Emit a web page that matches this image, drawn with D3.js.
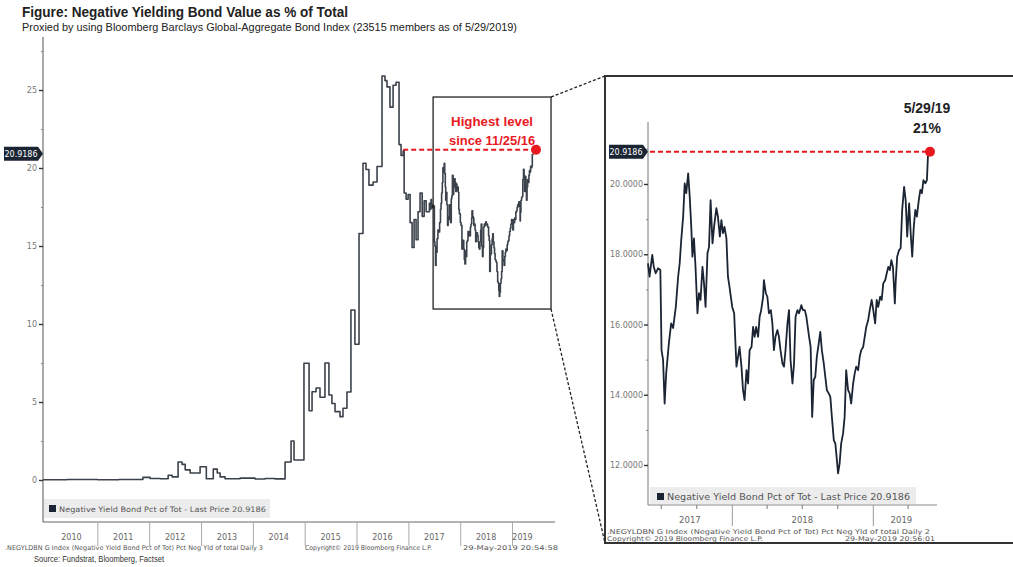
<!DOCTYPE html>
<html><head><meta charset="utf-8">
<script src="https://cdn.jsdelivr.net/npm/d3@7"></script>
<style>
html,body{margin:0;padding:0;background:#fff;}
svg{display:block;}
</style></head><body>
<svg id="c" width="1013" height="567"></svg>
<script>
// ---------------- DATA ----------------
const titleText = "Figure: Negative Yielding Bond Value as % of Total";
const subtitleText = "Proxied by using Bloomberg Barclays Global-Aggregate Bond Index (23515 members as of 5/29/2019)";
const seriesName = "Negative Yield Bond Pct of Tot";
const lastPrice = 20.9186;
const firstDate = "2009-12-14";
const zoomStart = "2017-05-29";
const lastDate = "2019-05-29";
const sinceDate = "2016-11-25";
const annotationLines = ["Highest level", "since 11/25/16"];
const endLabelLines = ["5/29/19", "21%"];
const leftYTicks = [0, 5, 10, 15, 20, 25];
const leftYMinor = [2.5, 7.5, 12.5, 17.5, 22.5, 27.5];
const rightYTicks = [12, 14, 16, 18, 20];
const rightYMinor = [13, 15, 17, 19, 21];
const leftYears = [2010, 2011, 2012, 2013, 2014, 2015, 2016, 2017, 2018, 2019];
const rightYears = [2017, 2018, 2019];
const zoomBoxDates = ["2017-06-24", "2019-10-03"];
const zoomBoxValues = [10.96, 24.55];
const leftFooter = [".NEGYLDBN G Index (Negative Yield Bond Pct of Tot) Pct Neg Yld of total  Daily 3", "Copyright\u00a9 2019 Bloomberg Finance L.P.", "29-May-2019 20:54:58"];
const rightFooter = [".NEGYLDBN G Index (Negative Yield Bond Pct of Tot) Pct Neg Yld of total  Daily 2", "Copyright\u00a9 2019 Bloomberg Finance L.P.", "29-May-2019 20:56:01"];
const sourceText = "Source: Fundstrat, Bloomberg, Factset";

// long history (before the 2-year zoom window)
const historyDates = ["2009-12-14","2010-06-01","2011-01-03","2011-06-01","2011-11-18","2012-01-08","2012-03-18","2012-05-14","2012-06-11","2012-07-23","2012-08-20","2012-09-11","2012-10-16","2012-12-25","2013-02-07","2013-03-28","2013-04-25","2013-05-15","2013-06-19","2013-10-03","2014-01-16","2014-03-28","2014-06-06","2014-08-16","2014-09-27","2014-10-18","2014-12-27","2015-02-01","2015-02-22","2015-03-22","2015-04-19","2015-05-24","2015-06-21","2015-07-12","2015-08-03","2015-09-07","2015-09-28","2015-10-26","2015-11-23","2015-12-21","2016-01-19","2016-02-16","2016-03-08","2016-03-29","2016-04-27","2016-05-25","2016-06-29","2016-07-20","2016-08-03","2016-08-24","2016-09-15","2016-10-06","2016-10-27","2016-11-10","2016-11-25","2016-12-02","2016-12-16","2016-12-30","2017-01-13","2017-01-27","2017-02-10","2017-02-24","2017-03-10","2017-03-24","2017-04-08","2017-04-22","2017-05-06"];
const historyValues = [0.02,0.03,0.02,0.03,0.17,0.10,0.08,0.30,0.20,1.15,1.00,0.65,0.45,0.85,0.08,0.70,0.45,0.20,0.08,0.12,0.06,0.10,0.07,1.15,2.50,1.28,7.48,4.44,5.66,5.90,5.30,7.50,5.45,4.90,4.38,4.06,4.60,5.64,10.9,8.7,15.8,20.3,19.9,18.9,19.1,20.1,25.9,25.6,25.2,23.9,25.3,25.5,21.5,20.8,21.1,18.4,18.0,18.3,16.5,14.9,16.7,15.4,17.2,18.4,16.9,17.9,17.2];

// last two years (zoom window)
const recentDates = ["2017-05-29","2017-06-02","2017-06-09","2017-06-13","2017-06-18","2017-06-24","2017-06-30","2017-07-03","2017-07-07","2017-07-11","2017-07-15","2017-07-22","2017-07-28","2017-08-02","2017-08-09","2017-08-15","2017-08-19","2017-08-23","2017-08-28","2017-09-01","2017-09-05","2017-09-10","2017-09-14","2017-09-18","2017-09-21","2017-09-25","2017-09-29","2017-10-04","2017-10-08","2017-10-12","2017-10-17","2017-10-21","2017-10-25","2017-10-30","2017-11-03","2017-11-07","2017-11-12","2017-11-16","2017-11-22","2017-11-26","2017-12-01","2017-12-05","2017-12-09","2017-12-13","2017-12-18","2017-12-22","2017-12-26","2018-01-02","2018-01-07","2018-01-13","2018-01-17","2018-01-21","2018-01-26","2018-01-30","2018-02-03","2018-02-08","2018-02-12","2018-02-16","2018-02-21","2018-02-25","2018-03-01","2018-03-05","2018-03-10","2018-03-14","2018-03-18","2018-03-23","2018-03-25","2018-03-30","2018-04-03","2018-04-07","2018-04-12","2018-04-16","2018-04-20","2018-04-24","2018-04-29","2018-05-03","2018-05-07","2018-05-12","2018-05-16","2018-05-20","2018-05-25","2018-05-29","2018-06-02","2018-06-07","2018-06-11","2018-06-15","2018-06-20","2018-06-24","2018-06-30","2018-07-04","2018-07-09","2018-07-13","2018-07-20","2018-07-24","2018-07-28","2018-08-01","2018-08-05","2018-08-09","2018-08-14","2018-08-18","2018-08-22","2018-08-27","2018-08-31","2018-09-04","2018-09-09","2018-09-13","2018-09-17","2018-09-22","2018-09-26","2018-09-30","2018-10-03","2018-10-07","2018-10-11","2018-10-16","2018-10-20","2018-10-24","2018-10-29","2018-11-02","2018-11-06","2018-11-11","2018-11-15","2018-11-19","2018-11-24","2018-11-28","2018-12-02","2018-12-07","2018-12-11","2018-12-15","2018-12-20","2018-12-24","2018-12-29","2019-01-01","2019-01-07","2019-01-11","2019-01-15","2019-01-20","2019-01-24","2019-01-28","2019-02-02","2019-02-06","2019-02-10","2019-02-14","2019-02-18","2019-02-22","2019-02-27","2019-03-01","2019-03-05","2019-03-10","2019-03-14","2019-03-18","2019-03-23","2019-03-27","2019-03-31","2019-04-05","2019-04-09","2019-04-13","2019-04-17","2019-04-21","2019-04-25","2019-04-30","2019-05-04","2019-05-08","2019-05-12","2019-05-17","2019-05-21","2019-05-24","2019-05-29"];
const recentValues = [17.74,17.36,17.98,17.64,17.46,17.60,17.55,15.27,14.99,13.75,14.60,15.46,16.03,15.90,16.50,17.36,17.74,18.40,19.07,20.02,19.74,20.30,19.64,18.78,17.93,18.45,17.64,16.32,16.89,16.70,17.64,17.17,16.50,18.03,18.21,19.54,18.31,18.78,19.31,19.07,18.50,18.97,18.60,18.78,18.45,17.36,17.07,16.50,16.32,14.80,15.08,15.36,14.80,14.13,13.85,14.70,14.32,15.27,15.36,15.93,15.65,15.93,15.65,16.22,16.41,16.79,17.26,16.89,16.79,16.32,16.41,16.03,15.27,15.65,15.84,15.65,15.27,14.89,14.80,15.27,16.03,16.41,14.99,14.32,14.89,16.22,16.41,16.32,16.55,16.41,16.41,16.22,15.65,15.36,13.37,14.42,14.51,15.08,15.46,15.79,15.27,14.89,14.51,14.13,14.04,13.94,13.37,12.71,12.61,12.14,11.76,12.04,12.61,12.90,13.37,14.70,14.13,14.04,13.75,14.32,14.60,14.80,14.70,15.08,15.27,15.36,15.65,15.93,16.13,16.41,16.70,16.50,16.03,16.70,16.50,16.79,16.70,17.17,17.26,17.46,17.64,17.55,17.83,17.64,16.60,17.17,17.93,18.12,18.17,19.26,19.92,19.54,18.50,19.45,18.60,17.93,18.78,19.26,19.07,19.54,19.83,19.74,20.11,20.02,20.11,20.87,20.9186];

// ---------------- BUILD ----------------
const parse = d3.utcParse("%Y-%m-%d");
const hist = historyDates.map((d, i) => ({date: parse(d), value: historyValues[i]}));
const recent = recentDates.map((d, i) => ({date: parse(d), value: recentValues[i]}));
const full = hist.concat(recent);

const svg = d3.select("#c");
const bbFont = "'DejaVu Sans', Verdana, sans-serif";
const arial = "'Liberation Sans', Arial, sans-serif";
const navy = "#1b2433";
const red = "#e8191f";

// Title
svg.append("text").attr("x", 22).attr("y", 17).attr("font-family", arial).attr("font-weight", "bold")
  .attr("font-size", 14).attr("fill", "#222").attr("textLength", 326).attr("lengthAdjust", "spacingAndGlyphs").text(titleText);
svg.append("text").attr("x", 22).attr("y", 31).attr("font-family", arial)
  .attr("font-size", 10.5).attr("fill", "#222").attr("textLength", 495).attr("lengthAdjust", "spacingAndGlyphs").text(subtitleText);

// ======== LEFT CHART ========
const xL = d3.scaleUtc().domain([parse(firstDate), parse(lastDate)]).range([43, 533]);
const yL = d3.scaleLinear().domain([0, 25]).range([480, 90]);
const left = svg.append("g");

// y axis
left.append("line").attr("x1", 43).attr("x2", 43).attr("y1", yL(28.4)).attr("y2", 522).attr("stroke", "#555").attr("stroke-width", 1);
const yAxL = left.append("g").attr("transform", "translate(43,0)")
  .call(d3.axisLeft(yL).tickValues(leftYTicks).tickSize(4).tickPadding(2).tickFormat(d3.format("d")));
yAxL.select(".domain").remove();
yAxL.selectAll("line").attr("stroke", "#333").attr("stroke-width", 1.4);
yAxL.selectAll("text").attr("font-family", bbFont).attr("font-size", 8).attr("fill", "#777");
const yAxLm = left.append("g").attr("transform", "translate(43,0)")
  .call(d3.axisLeft(yL).tickValues(leftYMinor).tickSize(2).tickFormat(""));
yAxLm.select(".domain").remove();
yAxLm.selectAll("line").attr("stroke", "#888");

// x axis
left.append("line").attr("x1", 43).attr("x2", 555).attr("y1", 522).attr("y2", 522).attr("stroke", "#666").attr("stroke-width", 1);
const yearStartsL = leftYears.slice(1).map(y => new Date(Date.UTC(y, 0, 1)));
const xAxL = left.append("g").attr("transform", "translate(0,522)")
  .call(d3.axisBottom(xL).tickValues(yearStartsL).tickSize(24).tickFormat(""));
xAxL.select(".domain").remove();
xAxL.selectAll("line").attr("stroke", "#aaa");
left.append("g").selectAll("text").data(leftYears).join("text")
  .attr("x", y => {
    const a = Math.max(xL(new Date(Date.UTC(y, 0, 1))), xL.range()[0]);
    const b = Math.min(xL(new Date(Date.UTC(y + 1, 0, 1))), xL.range()[1]);
    return (a + b) / 2;
  })
  .attr("y", 540).attr("text-anchor", "middle").attr("font-family", bbFont).attr("font-size", 8).attr("fill", "#666")
  .text(d => d);

// legend
left.append("rect").attr("x", 44).attr("y", 499).attr("width", 226).attr("height", 19).attr("fill", "#ececec");
left.append("rect").attr("x", 49).attr("y", 505).attr("width", 7).attr("height", 7).attr("fill", navy);
left.append("text").attr("x", 59).attr("y", 512).attr("font-family", bbFont).attr("font-size", 7.5).attr("fill", "#555")
  .attr("textLength", 207).attr("lengthAdjust", "spacingAndGlyphs")
  .text(seriesName + " - Last Price " + d3.format(".4f")(lastPrice));

// series
const lineL = d3.line().x(d => xL(d.date)).y(d => yL(d.value)).curve(d3.curveStepAfter);
left.append("path").datum(full).attr("d", lineL).attr("fill", "none").attr("stroke", "#3c424b").attr("stroke-width", 1.6).attr("stroke-linejoin", "round");

// last price tag
function tag(g, xAxis, yv) {
  const h = 14, w = 34;
  g.append("path").attr("d", `M${xAxis - w - 5},${yv - h/2} H${xAxis - 5} L${xAxis},${yv} L${xAxis - 5},${yv + h/2} H${xAxis - w - 5} Z`).attr("fill", navy);
  g.append("text").attr("x", xAxis - 5 - w/2).attr("y", yv + 3).attr("text-anchor", "middle").attr("font-family", bbFont)
    .attr("font-size", 8).attr("fill", "#fff").text(d3.format(".4f")(lastPrice));
}
tag(left, 43, yL(lastPrice));

// zoom box
const bx0 = xL(parse(zoomBoxDates[0])), bx1 = xL(parse(zoomBoxDates[1]));
const by0 = yL(zoomBoxValues[1]), by1 = yL(zoomBoxValues[0]);
left.append("rect").attr("x", bx0).attr("y", by0).attr("width", bx1 - bx0).attr("height", by1 - by0)
  .attr("fill", "none").attr("stroke", "#111").attr("stroke-width", 1.2);

// red annotation
left.append("line").attr("x1", xL(parse(sinceDate))).attr("x2", xL(parse(lastDate)))
  .attr("y1", yL(lastPrice) - 4).attr("y2", yL(lastPrice) - 4).attr("stroke", red).attr("stroke-width", 2).attr("stroke-dasharray", "5,3");
left.append("circle").attr("cx", xL(parse(lastDate)) + 3).attr("cy", yL(lastPrice) - 4).attr("r", 5).attr("fill", red);
left.append("g").selectAll("text").data(annotationLines).join("text")
  .attr("x", (bx0 + bx1) / 2).attr("y", (d, i) => 126 + i * 19).attr("text-anchor", "middle")
  .attr("font-family", arial).attr("font-weight", "bold").attr("font-size", 13.5).attr("fill", red)
  .attr("textLength", (d, i) => i === 0 ? 82 : 86).attr("lengthAdjust", "spacingAndGlyphs").text(d => d);

// footer left
const fy = 550;
[[5, 258], [305, 127], [463, 95]].forEach((p, i) => {
  svg.append("text").attr("x", p[0]).attr("y", fy).attr("font-family", bbFont).attr("font-size", 6.5).attr("fill", "#555")
    .attr("textLength", p[1]).attr("lengthAdjust", "spacingAndGlyphs").text(leftFooter[i]);
});
svg.append("text").attr("x", 34).attr("y", 562).attr("font-family", arial).attr("font-size", 9).attr("fill", "#333")
  .attr("textLength", 130).attr("lengthAdjust", "spacingAndGlyphs").text(sourceText);

// ======== RIGHT CHART ========
const xR = d3.scaleUtc().domain([parse(zoomStart), parse(lastDate)]).range([648, 930]);
const yR = d3.scaleLinear().domain([12, 20]).range([465, 184]);
const right = svg.append("g");

// frame
right.append("path").attr("d", "M1020,76 H605 V543 H1020").attr("fill", "none").attr("stroke", "#333").attr("stroke-width", 2);
// connectors
svg.append("line").attr("x1", bx1).attr("y1", by0).attr("x2", 605).attr("y2", 76).attr("stroke", "#222").attr("stroke-width", 1.3).attr("stroke-dasharray", "3,2");
svg.append("line").attr("x1", bx1).attr("y1", by1).attr("x2", 605).attr("y2", 543).attr("stroke", "#222").attr("stroke-width", 1.3).attr("stroke-dasharray", "3,2");

// y axis
right.append("line").attr("x1", 648).attr("x2", 648).attr("y1", 122).attr("y2", 505).attr("stroke", "#777").attr("stroke-width", 1);
const yAxR = right.append("g").attr("transform", "translate(648,0)")
  .call(d3.axisLeft(yR).tickValues(rightYTicks).tickSize(4).tickPadding(1).tickFormat(d3.format(".4f")));
yAxR.select(".domain").remove();
yAxR.selectAll("line").attr("stroke", "#333").attr("stroke-width", 1.4);
yAxR.selectAll("text").attr("font-family", bbFont).attr("font-size", 8).attr("fill", "#777");
const yAxRm = right.append("g").attr("transform", "translate(648,0)")
  .call(d3.axisLeft(yR).tickValues(rightYMinor).tickSize(2).tickFormat(""));
yAxRm.select(".domain").remove();
yAxRm.selectAll("line").attr("stroke", "#888");

// x axis
right.append("line").attr("x1", 648).attr("x2", 937).attr("y1", 505).attr("y2", 505).attr("stroke", "#888").attr("stroke-width", 1);
const yearStartsR = [2018, 2019].map(y => new Date(Date.UTC(y, 0, 1)));
const xAxR = right.append("g").attr("transform", "translate(0,505)")
  .call(d3.axisBottom(xR).tickValues(yearStartsR).tickSize(21).tickFormat(""));
xAxR.select(".domain").remove();
xAxR.selectAll("line").attr("stroke", "#999");
const quarterTicks = d3.utcMonth.every(3).range(parse(zoomStart), parse(lastDate)).filter(d => d.getUTCMonth() !== 0);
const xAxRq = right.append("g").attr("transform", "translate(0,505)")
  .call(d3.axisBottom(xR).tickValues(quarterTicks).tickSize(4).tickFormat(""));
xAxRq.select(".domain").remove();
xAxRq.selectAll("line").attr("stroke", "#777");
right.append("g").selectAll("text").data(rightYears).join("text")
  .attr("x", y => {
    const a = Math.max(xR(new Date(Date.UTC(y, 0, 1))), xR.range()[0]);
    const b = Math.min(xR(new Date(Date.UTC(y + 1, 0, 1))), xR.range()[1]);
    return (a + b) / 2;
  })
  .attr("y", 523).attr("text-anchor", "middle").attr("font-family", bbFont).attr("font-size", 8.5).attr("fill", "#666")
  .text(d => d);

// legend
right.append("rect").attr("x", 650).attr("y", 487).attr("width", 266).attr("height", 17).attr("fill", "#ececec");
right.append("rect").attr("x", 657).attr("y", 493).attr("width", 7).attr("height", 7).attr("fill", navy);
right.append("text").attr("x", 667).attr("y", 500).attr("font-family", bbFont).attr("font-size", 8.5).attr("fill", "#555")
  .attr("textLength", 243).attr("lengthAdjust", "spacingAndGlyphs")
  .text(seriesName + " - Last Price " + d3.format(".4f")(lastPrice));

// series
const lineR = d3.line().x(d => xR(d.date)).y(d => yR(d.value));
right.append("path").datum(recent).attr("d", lineR).attr("fill", "none").attr("stroke", navy).attr("stroke-width", 1.8).attr("stroke-linejoin", "round");

tag(right, 648, yR(lastPrice));

right.append("line").attr("x1", 650).attr("x2", xR(parse(lastDate))).attr("y1", yR(lastPrice)).attr("y2", yR(lastPrice))
  .attr("stroke", red).attr("stroke-width", 2).attr("stroke-dasharray", "5,3");
right.append("circle").attr("cx", xR(parse(lastDate))).attr("cy", yR(lastPrice)).attr("r", 5).attr("fill", red);
right.append("g").selectAll("text").data(endLabelLines).join("text")
  .attr("x", xR(parse(lastDate)) - 3).attr("y", (d, i) => 113 + i * 20).attr("text-anchor", "middle")
  .attr("font-family", arial).attr("font-weight", "bold").attr("font-size", 14).attr("fill", "#222").text(d => d);

// footer right
svg.append("text").attr("x", 607).attr("y", 534).attr("font-family", bbFont).attr("font-size", 6.5).attr("fill", "#555")
  .attr("textLength", 323).attr("lengthAdjust", "spacingAndGlyphs").text(rightFooter[0]);
svg.append("text").attr("x", 607).attr("y", 541).attr("font-family", bbFont).attr("font-size", 6.5).attr("fill", "#555")
  .attr("textLength", 156).attr("lengthAdjust", "spacingAndGlyphs").text(rightFooter[1]);
svg.append("text").attr("x", 935).attr("y", 541).attr("font-family", bbFont).attr("font-size", 6.5).attr("fill", "#555")
  .attr("text-anchor", "end").attr("textLength", 90).attr("lengthAdjust", "spacingAndGlyphs").text(rightFooter[2]);
</script>
</body></html>
